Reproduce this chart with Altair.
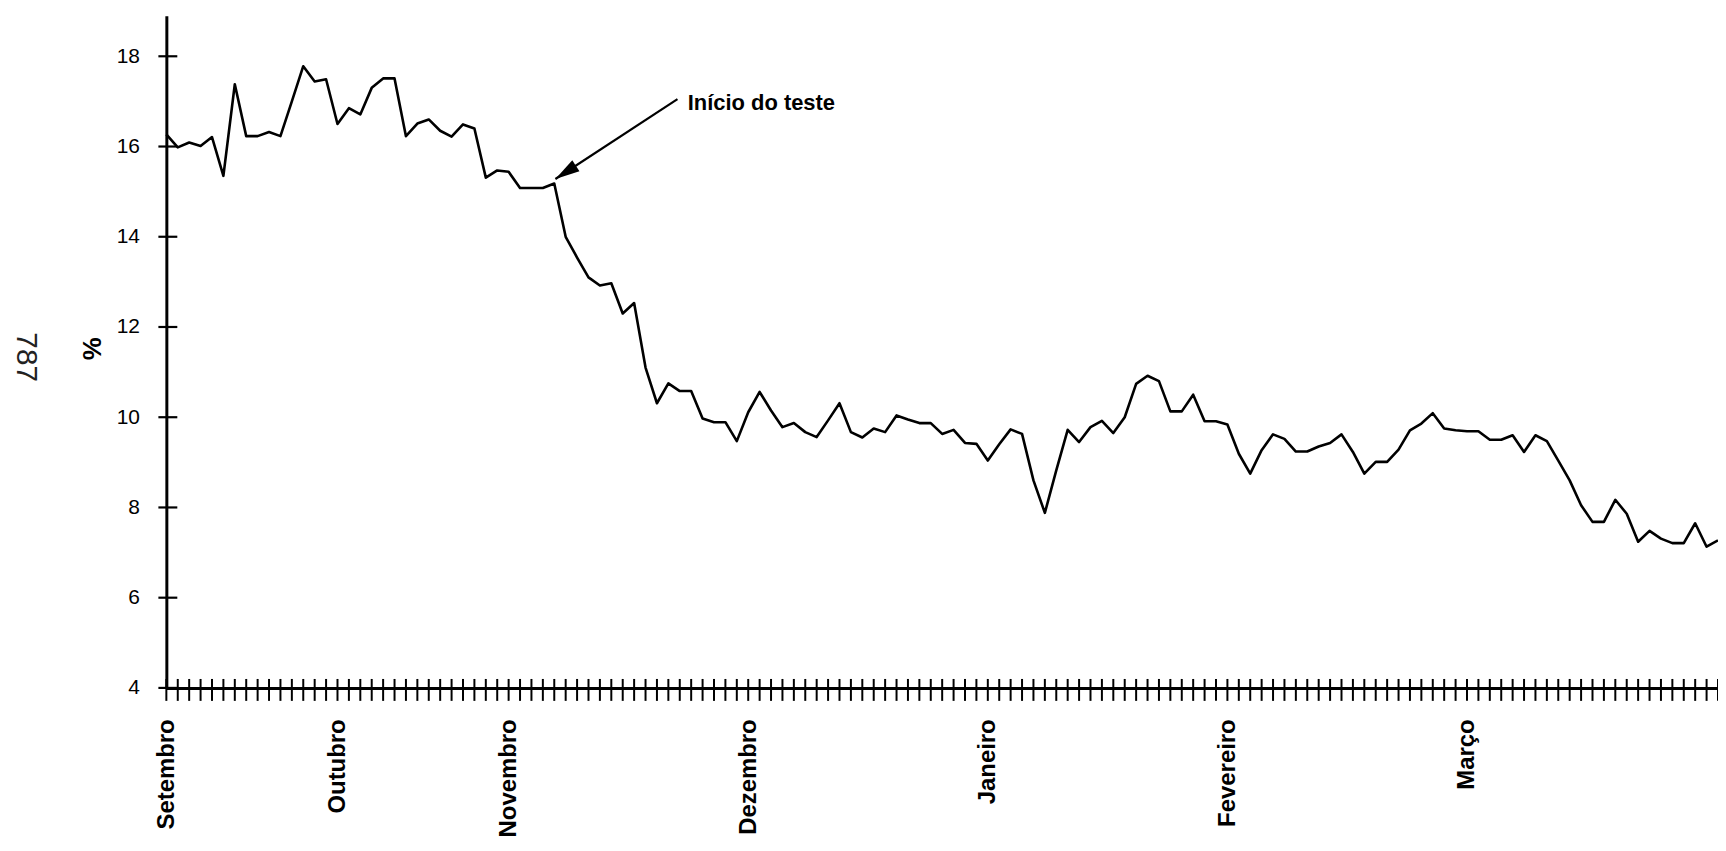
import altair as alt
import pandas as pd

# One value per tick on the x axis (%)
values = [16.27, 15.98, 16.09, 16.01, 16.21, 15.35, 17.38, 16.23, 16.23, 16.32,
          16.23, 17.0, 17.78, 17.44, 17.49, 16.5, 16.85, 16.71, 17.3, 17.51,
          17.51, 16.23, 16.51, 16.6, 16.35, 16.22, 16.49, 16.4, 15.31, 15.47,
          15.44, 15.08, 15.08, 15.08, 15.18, 14.0, 13.54, 13.1, 12.92, 12.97,
          12.3, 12.53, 11.1, 10.31, 10.75, 10.58, 10.58, 9.97, 9.89, 9.89,
          9.47, 10.11, 10.56, 10.15, 9.78, 9.87, 9.67, 9.56, 9.93, 10.31,
          9.67, 9.55, 9.75, 9.67, 10.04, 9.95, 9.87, 9.87, 9.63, 9.72,
          9.43, 9.41, 9.04, 9.4, 9.73, 9.63, 8.6, 7.88, 8.82, 9.72,
          9.45, 9.78, 9.92, 9.65, 10.0, 10.74, 10.92, 10.8, 10.13, 10.13,
          10.5, 9.91, 9.91, 9.84, 9.19, 8.75, 9.27, 9.62, 9.52, 9.24,
          9.24, 9.35, 9.43, 9.62, 9.23, 8.75, 9.01, 9.01, 9.28, 9.71,
          9.86, 10.09, 9.75, 9.71, 9.69, 9.69, 9.5, 9.5, 9.6, 9.23,
          9.6, 9.47, 9.04, 8.6, 8.05, 7.68, 7.68, 8.17, 7.86, 7.24,
          7.48, 7.31, 7.21, 7.21, 7.65, 7.13, 7.27]
index = list(range(len(values)))

month_names = ["Setembro", "Outubro", "Novembro", "Dezembro", "Janeiro", "Fevereiro", "Março"]
month_pos = [0, 15, 30, 51, 72, 93, 114]

x_ticks = list(range(len(values)))
y_ticks = [4, 6, 8, 10, 12, 14, 16, 18]

annot_label = ["Início do teste"]
annot_text_i = [45.7]
annot_text_v = [16.8]
arrow_from_i = [44.8]
arrow_from_v = [17.05]
arrow_to_i = [34.1]
arrow_to_v = [15.28]

page_label = "787"

# ---------------------------------------------------------------
label_expr = ""
for p, n in zip(month_pos, month_names):
    label_expr += f"datum.value == {p} ? '{n}' : "
label_expr += "''"

font = "'Liberation Sans', Arial, sans-serif"

x_scale = alt.Scale(domain=[0, 136], nice=False, zero=False)
y_scale = alt.Scale(domain=[4, 18.9], nice=False, zero=False)

x_axis = alt.Axis(values=month_pos, labelExpr=label_expr, labelAngle=270,
                  labelFont=font, labelFontWeight="bold", labelFontSize=24,
                  labelColor="black", labelPadding=31, labelFlush=False,
                  labelOverlap=False, ticks=False, grid=False,
                  domainColor="black", domainWidth=3, title="")
y_axis = alt.Axis(values=y_ticks, labelFont=font, labelFontSize=21,
                  labelColor="black", labelPadding=27, ticks=False, grid=False,
                  domainColor="black", domainWidth=3,
                  title="%", titleFont=font, titleFontWeight="bold",
                  titleFontSize=26, titleColor="black", titleX=-74, titleY=334,
                  titleAngle=270, titleAlign="center", titleBaseline="middle")

X = alt.X("i:Q", scale=x_scale, axis=x_axis)
Y = alt.Y("v:Q", scale=y_scale, axis=y_axis)

df = pd.DataFrame({"i": index, "v": values})

line = alt.Chart(df).mark_line(color="black", strokeWidth=2.6,
                               strokeJoin="round").encode(x=X, y=Y)

xt = alt.Chart(pd.DataFrame({"i": x_ticks})).mark_rule(
    color="black", strokeWidth=2, yOffset=-9, y2Offset=13
).encode(x=X, y=alt.datum(4), y2=alt.datum(4))

yt = alt.Chart(pd.DataFrame({"v": y_ticks})).mark_rule(
    color="black", strokeWidth=2.2, xOffset=-8, x2Offset=11
).encode(y=Y, x=alt.datum(0), x2=alt.datum(0))

txt = alt.Chart(pd.DataFrame({"i": annot_text_i, "v": annot_text_v, "t": annot_label})).mark_text(
    align="left", baseline="alphabetic", font=font, fontWeight="bold",
    fontSize=22, color="black"
).encode(x=X, y=Y, text="t:N")

arrow_line = alt.Chart(pd.DataFrame({"i": arrow_from_i, "v": arrow_from_v,
                                     "i2": arrow_to_i, "v2": arrow_to_v})).mark_rule(
    color="black", strokeWidth=2.2
).encode(x=X, y=Y, x2="i2:Q", y2="v2:Q")

arrow_head = alt.Chart(pd.DataFrame({"i": arrow_to_i, "v": arrow_to_v})).mark_point(
    shape="M0,0 L-1,-0.27 L-1,0.27 Z", filled=True, color="black", opacity=1,
    size=2400, angle=147
).encode(x=X, y=Y)

page = alt.Chart(pd.DataFrame({"t": [page_label]})).mark_text(
    font=font, fontSize=30, angle=90, color="#222222", align="center", baseline="middle"
).encode(x=alt.value(-141), y=alt.value(343), text="t:N")

chart = alt.layer(yt, xt, line, arrow_line, arrow_head, txt, page).properties(
    width=1558, height=675,
    padding={"left": 159, "top": 6, "right": 0, "bottom": 154},
    autosize=alt.AutoSizeParams(type="none"),
    background="white",
).configure_view(strokeWidth=0)

chart.save("out.html", embed_options={"renderer": "svg", "actions": False})
